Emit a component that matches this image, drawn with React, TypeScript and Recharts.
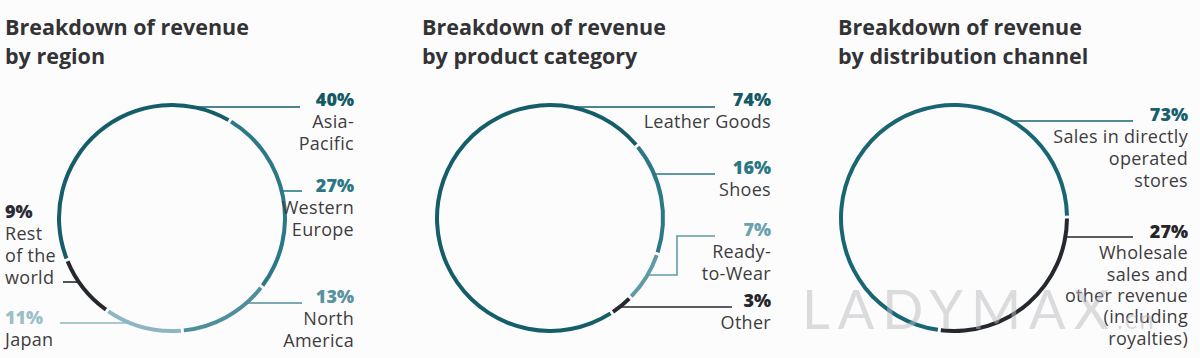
import React from 'react';
import { PieChart, Pie, Cell } from 'recharts';

// ---------- data ----------
const regionNames = ['Asia-Pacific', 'Western Europe', 'North America', 'Japan', 'Rest of the world'];
const regionValues = [40, 27, 13, 11, 9];
const regionLabelLines = [['Asia-', 'Pacific'], ['Western', 'Europe'], ['North', 'America'], ['Japan'], ['Rest', 'of the', 'world']];

const productNames = ['Leather Goods', 'Shoes', 'Ready-to-Wear', 'Other'];
const productValues = [74, 16, 7, 3];
const productLabelLines = [['Leather Goods'], ['Shoes'], ['Ready-', 'to-Wear'], ['Other']];

const channelNames = ['Sales in directly operated stores', 'Wholesale sales and other revenue (including royalties)'];
const channelValues = [73, 27];
const channelLabelLines = [['Sales in directly', 'operated', 'stores'], ['Wholesale', 'sales and', 'other revenue', '(including', 'royalties)']];

const titles = [
  ['Breakdown of revenue', 'by region'],
  ['Breakdown of revenue', 'by product category'],
  ['Breakdown of revenue', 'by distribution channel'],
];

// ---------- styles / layout ----------
const FONT = '"Open Sans", "Noto Sans", sans-serif';
const TEXT = '#3d3d40';
const C_DARK = '#145d69';
const C_MID = '#2b7886';
const C_NA = '#4f8f9c';
const C_LIGHT = '#8db6c2';
const C_RTW = '#5f9ba7';
const C_BLACK = '#25282f';
const C_SALES = '#186673';

const regionColors = [C_DARK, C_MID, C_NA, C_LIGHT, C_BLACK];
const regionPctColors = ['#135a66', '#2b7785', '#5793a0', '#9dbfca', '#2a2a33'];
const productColors = [C_DARK, C_MID, C_RTW, C_BLACK];
const productPctColors = ['#135a66', '#2b7785', '#6aa3ae', '#25252c'];
const channelColors = [C_SALES, C_BLACK];
const channelPctColors = ['#15606c', '#25252c'];

type Spec = {
  side: 1 | -1;
  lineY: number;
  lineEnd: number;
  textX: number;
  pctY: number;
  gap?: number;
  elbowStartY?: number;
  elbowX?: number;
};

const regionSpecs: Spec[] = [
  { side: 1, lineY: 107, lineEnd: 300, textX: 354, pctY: 106 },
  { side: 1, lineY: 191, lineEnd: 302, textX: 354, pctY: 192 },
  { side: 1, lineY: 303, lineEnd: 302, textX: 354, pctY: 303 },
  { side: -1, lineY: 323, lineEnd: 60, textX: 5, pctY: 324 },
  { side: -1, lineY: 282, lineEnd: 63, textX: 5, pctY: 218 },
];
const productSpecs: Spec[] = [
  { side: 1, lineY: 107, lineEnd: 715, textX: 771, pctY: 106 },
  { side: 1, lineY: 174, lineEnd: 715, textX: 771, pctY: 174 },
  { side: 1, lineY: 236, lineEnd: 715, textX: 771, pctY: 236, elbowStartY: 275, elbowX: 677 },
  { side: 1, lineY: 307, lineEnd: 732, textX: 771, pctY: 307 },
];
const channelSpecs: Spec[] = [
  { side: 1, lineY: 121, lineEnd: 1133, textX: 1188, pctY: 121 },
  { side: 1, lineY: 237, lineEnd: 1133, textX: 1188, pctY: 238, gap: 21.3 },
];

const R = 113;
const TH = 2;

function makeLabel(specs: Spec[], lines: string[][], values: number[], colors: string[], pctColors: string[]) {
  return (props: any) => {
    const { cx, cy, innerRadius, outerRadius, index } = props;
    const s = specs[index];
    const r = (innerRadius + outerRadius) / 2;
    const onCircle = (y: number) => cx + s.side * Math.sqrt(Math.max(0, r * r - (y - cy) * (y - cy)));
    let d: string;
    if (s.elbowStartY !== undefined && s.elbowX !== undefined) {
      d = `M${onCircle(s.elbowStartY)},${s.elbowStartY}H${s.elbowX}V${s.lineY}H${s.lineEnd}`;
    } else {
      d = `M${onCircle(s.lineY)},${s.lineY}H${s.lineEnd}`;
    }
    const anchor = s.side === 1 ? 'end' : 'start';
    const gap = s.gap ?? 22;
    return (
      <g key={`lbl-${index}`}>
        <path d={d} fill="none" stroke={colors[index]} strokeWidth={1.6} />
        <text x={s.textX} y={s.pctY} textAnchor={anchor} fontFamily={FONT} fontWeight={800} fontSize={18} fill={pctColors[index]}>
          {`${values[index]}%`}
        </text>
        {lines[index].map((t, i) => (
          <text key={i} x={s.textX} y={s.pctY + gap * (i + 1)} textAnchor={anchor} fontFamily={FONT} fontSize={18} letterSpacing={0.3} fill={TEXT}>
            {t}
          </text>
        ))}
      </g>
    );
  };
}

const regionData = regionNames.map((name, i) => ({ name, value: regionValues[i] }));
const productData = productNames.map((name, i) => ({ name, value: productValues[i] }));
const channelData = channelNames.map((name, i) => ({ name, value: channelValues[i] }));

const titleX = [5, 422, 838];

export default function App() {
  return (
    <div style={{ position: 'absolute', left: 0, top: 0, width: 1200, height: 358, background: '#fdfcfd', overflow: 'hidden' }}>
      <PieChart width={1200} height={358} margin={{ top: 0, right: 0, bottom: 0, left: 0 }}>
        <Pie
          data={regionData}
          dataKey="value"
          nameKey="name"
          cx={172}
          cy={218}
          innerRadius={R - TH}
          outerRadius={R + TH}
          startAngle={-159}
          endAngle={-519}
          paddingAngle={1.5}
          stroke="none"
          isAnimationActive={false}
          labelLine={false}
          label={makeLabel(regionSpecs, regionLabelLines, regionValues, regionColors, regionPctColors)}
        >
          {regionData.map((_, i) => (
            <Cell key={i} fill={regionColors[i]} />
          ))}
        </Pie>
        <Pie
          data={productData}
          dataKey="value"
          nameKey="name"
          cx={550}
          cy={218}
          innerRadius={R - TH}
          outerRadius={R + TH}
          startAngle={-57.6}
          endAngle={-417.6}
          paddingAngle={1.5}
          stroke="none"
          isAnimationActive={false}
          labelLine={false}
          label={makeLabel(productSpecs, productLabelLines, productValues, productColors, productPctColors)}
        >
          {productData.map((_, i) => (
            <Cell key={i} fill={productColors[i]} />
          ))}
        </Pie>
        <Pie
          data={channelData}
          dataKey="value"
          nameKey="name"
          cx={954}
          cy={218}
          innerRadius={R - TH}
          outerRadius={R + TH}
          startAngle={-98.2}
          endAngle={-458.2}
          paddingAngle={1.5}
          stroke="none"
          isAnimationActive={false}
          labelLine={false}
          label={makeLabel(channelSpecs, channelLabelLines, channelValues, channelColors, channelPctColors)}
        >
          {channelData.map((_, i) => (
            <Cell key={i} fill={channelColors[i]} />
          ))}
        </Pie>
      </PieChart>
      {titles.map((t, i) => (
        <div
          key={i}
          style={{
            position: 'absolute',
            left: titleX[i],
            top: 12,
            fontFamily: FONT,
            fontWeight: 700,
            fontSize: 21.5,
            lineHeight: '29px',
            color: '#333336',
            whiteSpace: 'nowrap',
          }}
        >
          {t.map((l, j) => (
            <div key={j}>{l}</div>
          ))}
        </div>
      ))}
      <div
        style={{
          position: 'absolute',
          left: 802,
          top: 276,
          fontFamily: '"Lato", "Open Sans", sans-serif',
          fontWeight: 400,
          fontSize: 54,
          letterSpacing: 8,
          color: 'rgba(185,185,190,0.5)',
          whiteSpace: 'nowrap',
          pointerEvents: 'none',
        }}
      >
        LADYMAX<span style={{ fontSize: 26, letterSpacing: 2 }}>.cn</span>
      </div>
    </div>
  );
}
